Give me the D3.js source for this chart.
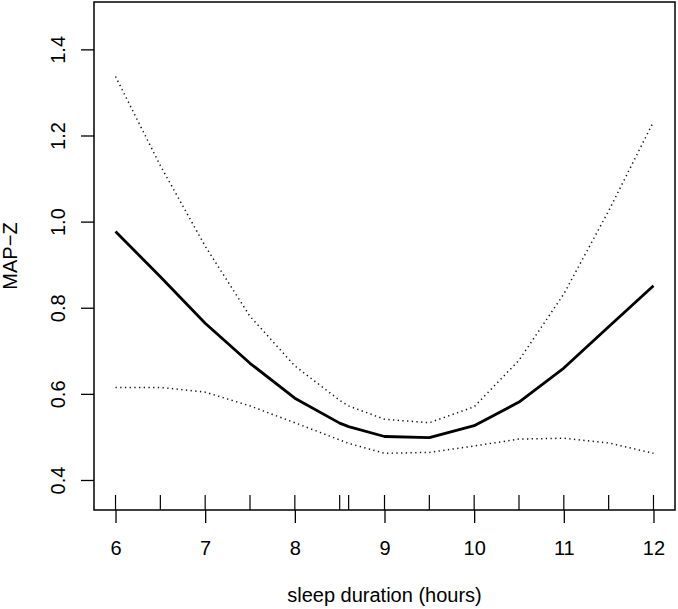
<!DOCTYPE html>
<html>
<head>
<meta charset="utf-8">
<script src="https://cdn.jsdelivr.net/npm/d3@7"></script>
<style>
  html, body { margin: 0; padding: 0; background: #fff; }
  svg { display: block; font-family: "Liberation Sans", Arial, Helvetica, sans-serif; }
</style>
</head>
<body>
<svg id="chart" width="678" height="609"></svg>
<script>
// ---- data ----
const sleepHours = [6, 6.5, 7, 7.5, 8, 8.5, 8.6, 9, 9.5, 10, 10.5, 11, 11.5, 12];
const fitValues  = [0.977, 0.872, 0.764, 0.671, 0.590, 0.532, 0.524, 0.501, 0.4985, 0.526, 0.581, 0.660, 0.756, 0.851];
const upperCI    = [1.337, 1.130, 0.943, 0.780, 0.665, 0.585, 0.572, 0.541, 0.533, 0.570, 0.678, 0.832, 1.025, 1.232];
const lowerCI    = [0.615, 0.615, 0.604, 0.572, 0.533, 0.493, 0.485, 0.462, 0.464, 0.479, 0.495, 0.497, 0.486, 0.462];
const rugValues  = [6, 6.5, 7, 7.5, 8, 8.5, 8.6, 9, 9.5, 10, 10.5, 11, 11.5, 12];
const xTicks     = [6, 7, 8, 9, 10, 11, 12];
const yTicks     = [0.4, 0.6, 0.8, 1.0, 1.2, 1.4];
const xLabel = "sleep duration (hours)";
const yLabel = "MAP\u2212Z";

// ---- layout ----
const pLeft = 94, pRight = 675, pTop = 2, pBottom = 510;
const svg = d3.select("#chart");

const x = d3.scaleLinear().domain([5.76, 12.24]).range([pLeft, pRight]);
const y = d3.scaleLinear().domain([0.3303, 1.510]).range([pBottom, pTop]);

// plot box
svg.append("rect")
  .attr("x", pLeft).attr("y", pTop)
  .attr("width", pRight - pLeft).attr("height", pBottom - pTop)
  .attr("fill", "none").attr("stroke", "#000").attr("stroke-width", 1.5);

// x axis
const xAxis = d3.axisBottom(x).tickValues(xTicks).tickSize(13)
  .tickFormat(d3.format("d"));
const gx = svg.append("g").attr("transform", `translate(0,${pBottom})`).call(xAxis);
gx.select(".domain").remove();
gx.selectAll(".tick line").attr("stroke", "#000").attr("stroke-width", 1.3);
gx.selectAll(".tick text").attr("font-size", 20).attr("fill", "#000")
  .attr("font-family", "Liberation Sans, Arial, sans-serif")
  .attr("dy", null).attr("y", 45);

// y axis
const yAxis = d3.axisLeft(y).tickValues(yTicks).tickSize(13).tickFormat(d3.format(".1f"));
const gy = svg.append("g").attr("transform", `translate(${pLeft},0)`).call(yAxis);
gy.select(".domain").remove();
gy.selectAll(".tick line").attr("stroke", "#000").attr("stroke-width", 1.3);
gy.selectAll(".tick text")
  .attr("font-size", 20).attr("fill", "#000")
  .attr("font-family", "Liberation Sans, Arial, sans-serif")
  .attr("x", null).attr("dy", null)
  .attr("text-anchor", "middle")
  .attr("transform", `translate(${65 - pLeft},0) rotate(-90)`);

// rug
svg.append("g").selectAll("line").data(rugValues).join("line")
  .attr("x1", d => x(d)).attr("x2", d => x(d))
  .attr("y1", pBottom - 15).attr("y2", pBottom)
  .attr("stroke", "#000").attr("stroke-width", 1.2);

// lines
const line = d3.line().x((d, i) => x(sleepHours[i])).y(d => y(d));
svg.append("path").datum(upperCI).attr("d", line)
  .attr("fill", "none").attr("stroke", "#111").attr("stroke-width", 1.5)
  .attr("stroke-dasharray", "1.3,3.4");
svg.append("path").datum(lowerCI).attr("d", line)
  .attr("fill", "none").attr("stroke", "#111").attr("stroke-width", 1.5)
  .attr("stroke-dasharray", "1.3,3.4");
svg.append("path").datum(fitValues).attr("d", line)
  .attr("fill", "none").attr("stroke", "#000").attr("stroke-width", 2.8)
  .attr("stroke-linejoin", "round");

// axis titles
svg.append("text").attr("x", (pLeft + pRight) / 2).attr("y", 602)
  .attr("text-anchor", "middle").attr("font-size", 20).attr("fill", "#000")
  .text(xLabel);
svg.append("text").attr("transform", `translate(16.5,${(pTop + pBottom) / 2}) rotate(-90)`)
  .attr("text-anchor", "middle").attr("font-size", 20).attr("fill", "#000")
  .text(yLabel);
</script>
</body>
</html>
